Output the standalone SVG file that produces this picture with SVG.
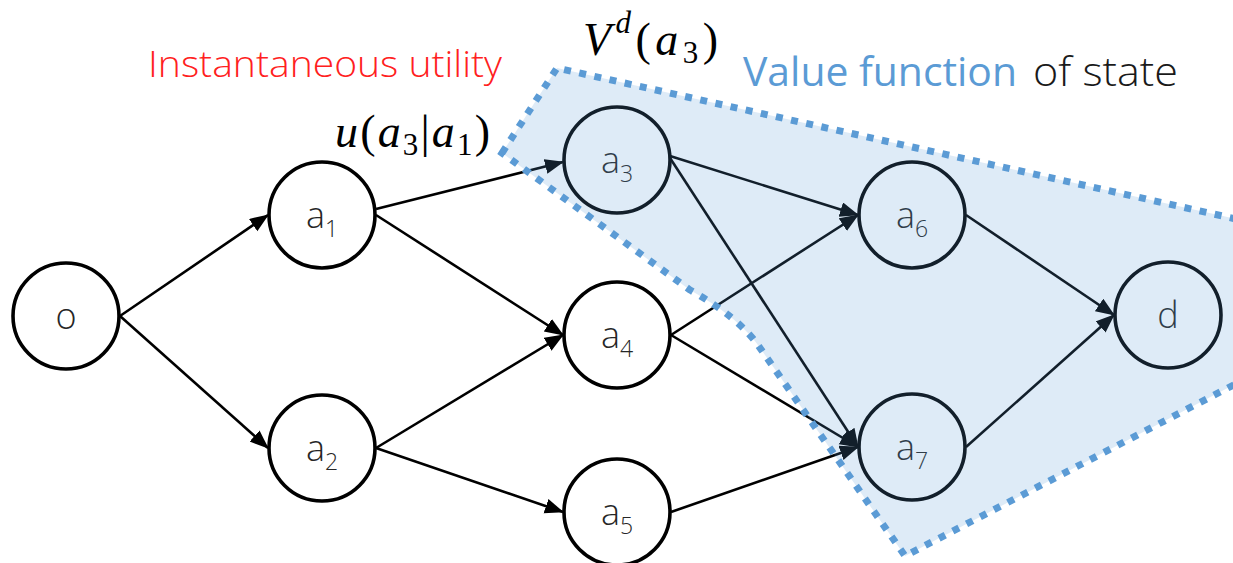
<svg xmlns="http://www.w3.org/2000/svg" width="1233" height="563" viewBox="0 0 1233 563">
<defs>
<style>
.node circle{fill:#fff;stroke:#000;stroke-width:3.6}
.lbl{font-family:"Open Sans","Liberation Sans",sans-serif;font-weight:300;font-size:36px;fill:#262626;text-anchor:middle}
.sub{font-size:23px}
.edge{stroke:#000;stroke-width:2.6;fill:none;marker-end:url(#arr)}
.math{font-family:"Liberation Serif","DejaVu Serif",serif;font-size:46px;fill:#000}
</style>
<marker id="arr" markerUnits="userSpaceOnUse" markerWidth="20" markerHeight="16" refX="18" refY="7.5" orient="auto">
<path d="M0,0 L19,7.5 L0,15 z" fill="#000"/>
</marker>
</defs>
<rect width="1233" height="563" fill="#fff"/>
<g id="connectors">
<line class="edge" x1="120" y1="316" x2="268" y2="215"/>
<line class="edge" x1="120" y1="316" x2="268" y2="448"/>
<line class="edge" x1="376" y1="209" x2="563" y2="162"/>
<line class="edge" x1="376" y1="215" x2="563" y2="335"/>
<line class="edge" x1="376" y1="448" x2="563" y2="335"/>
<line class="edge" x1="376" y1="448" x2="563" y2="512"/>
<line class="edge" x1="670" y1="156" x2="858" y2="215"/>
<line class="edge" x1="670" y1="158" x2="858" y2="447"/>
<line class="edge" x1="671" y1="335" x2="858" y2="215"/>
<line class="edge" x1="671" y1="335" x2="858" y2="447"/>
<line class="edge" x1="671" y1="512" x2="858" y2="447"/>
<line class="edge" x1="966" y1="215" x2="1114" y2="315"/>
<line class="edge" x1="966" y1="447" x2="1114" y2="315"/>
</g>
<g id="node-o" class="node"><circle cx="66" cy="316" r="53"/><text class="lbl" x="66" y="329">o</text></g>
<g id="node-a1" class="node"><circle cx="322" cy="215" r="53"/><text class="lbl" x="322" y="228">a<tspan class="sub" dy="9">1</tspan></text></g>
<g id="node-a2" class="node"><circle cx="322" cy="448" r="53"/><text class="lbl" x="322" y="461">a<tspan class="sub" dy="9">2</tspan></text></g>
<g id="node-a3" class="node"><circle cx="617" cy="160" r="53"/><text class="lbl" x="617" y="173">a<tspan class="sub" dy="9">3</tspan></text></g>
<g id="node-a4" class="node"><circle cx="617" cy="335" r="53"/><text class="lbl" x="617" y="348">a<tspan class="sub" dy="9">4</tspan></text></g>
<g id="node-a5" class="node"><circle cx="617" cy="512" r="53"/><text class="lbl" x="617" y="525">a<tspan class="sub" dy="9">5</tspan></text></g>
<g id="node-a6" class="node"><circle cx="912" cy="215" r="53"/><text class="lbl" x="912" y="228">a<tspan class="sub" dy="9">6</tspan></text></g>
<g id="node-a7" class="node"><circle cx="912" cy="447" r="53"/><text class="lbl" x="912" y="460">a<tspan class="sub" dy="9">7</tspan></text></g>
<g id="node-d" class="node"><circle cx="1168" cy="315" r="53"/><text class="lbl" x="1168" y="328">d</text></g>
<g id="value-region">
<path d="M502,153 L557,68 L1245,221 L1245,379 L905,556 L760,348 Q740,318 690,290 Z" fill="#5b9bd5" fill-opacity="0.2" stroke="#5b9bd5" stroke-width="7" stroke-dasharray="7 8.5"/>
</g>
<g id="labels">
<text x="148" y="77" font-family="'Open Sans','Liberation Sans',sans-serif" font-weight="300" font-size="36" fill="#ff2020" textLength="354" lengthAdjust="spacingAndGlyphs">Instantaneous utility</text>
<text x="743" y="86" font-family="'Open Sans','Liberation Sans',sans-serif" font-size="41" fill="#5b9bd5" textLength="274" lengthAdjust="spacingAndGlyphs">Value function</text>
<text x="1033" y="86" font-family="'Open Sans','Liberation Sans',sans-serif" font-size="41" font-weight="300" fill="#1a1a1a" textLength="145" lengthAdjust="spacingAndGlyphs">of state</text>
<text class="math" x="335" y="147" textLength="155" lengthAdjust="spacing"><tspan font-style="italic">u</tspan>(<tspan font-style="italic">a</tspan><tspan font-size="31" dy="8">3</tspan><tspan dy="-8">|</tspan><tspan font-style="italic">a</tspan><tspan font-size="31" dy="8">1</tspan><tspan dy="-8">)</tspan></text>
<text class="math" x="583" y="55" textLength="135" lengthAdjust="spacing"><tspan font-style="italic">V</tspan><tspan font-style="italic" font-size="31" dy="-22">d</tspan><tspan dy="22">(</tspan><tspan font-style="italic">a</tspan><tspan font-size="31" dy="8">3</tspan><tspan dy="-8">)</tspan></text>
</g>
</svg>
